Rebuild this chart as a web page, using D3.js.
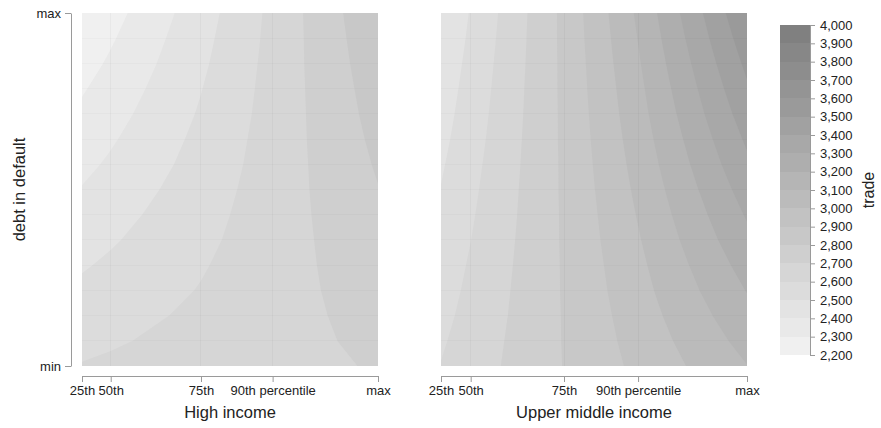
<!DOCTYPE html>
<html>
<head>
<meta charset="utf-8">
<script src="https://cdn.jsdelivr.net/npm/d3@7"></script>
<style>
  html, body { margin: 0; padding: 0; background: #fff; }
  svg { display: block; font-family: "Liberation Sans", Arial, Helvetica, sans-serif; }
</style>
</head>
<body>
<svg id="chart" width="881" height="428"></svg>
<script>
// Income percentiles along each x axis, placed as a share (0-100) of the income range
const percentileLabels = ["25th", "50th", "75th", "90th percentile", "max"];
const percentilePos = [0, 9.7, 40.2, 64.4, 100];

// Debt-in-default grid rows, from max (top) to min (bottom), as a share of the range
const debtPos = [100, 92.9, 85.7, 78.6, 71.4, 64.3, 57.1, 50, 42.9, 35.7, 28.6, 21.4, 14.3, 7.1, 0];
const debtTickPos = [0, 100];
const debtTickLabels = ["min", "max"];

const groupNames = ["High income", "Upper middle income"];

// Predicted trade: one row per debt level (max -> min), one column per percentile
const tradeHighIncome = [
  [2205, 2264, 2456, 2624, 2887],
  [2234, 2289, 2470, 2627, 2874],
  [2262, 2314, 2483, 2631, 2861],
  [2291, 2339, 2497, 2634, 2848],
  [2319, 2364, 2510, 2637, 2836],
  [2348, 2389, 2524, 2641, 2823],
  [2376, 2414, 2537, 2644, 2810],
  [2405, 2440, 2551, 2648, 2797],
  [2434, 2465, 2565, 2651, 2784],
  [2462, 2490, 2578, 2654, 2771],
  [2491, 2515, 2592, 2658, 2758],
  [2519, 2540, 2605, 2661, 2746],
  [2548, 2565, 2619, 2664, 2733],
  [2576, 2590, 2632, 2668, 2720],
  [2605, 2615, 2646, 2671, 2707]
];

const tradeUpperMiddle = [
  [2403, 2507, 2824, 3117, 3593],
  [2417, 2517, 2823, 3103, 3558],
  [2432, 2528, 2821, 3089, 3522],
  [2446, 2538, 2820, 3075, 3487],
  [2460, 2548, 2818, 3062, 3452],
  [2474, 2558, 2817, 3048, 3416],
  [2489, 2569, 2815, 3034, 3381],
  [2503, 2579, 2814, 3020, 3345],
  [2517, 2589, 2812, 3006, 3310],
  [2532, 2599, 2811, 2992, 3275],
  [2546, 2610, 2809, 2978, 3239],
  [2560, 2620, 2808, 2965, 3204],
  [2574, 2630, 2806, 2951, 3169],
  [2589, 2641, 2805, 2937, 3133],
  [2603, 2651, 2803, 2923, 3098]
];

// Contour levels shown in the colour key
const legendTicks = [2200, 2300, 2400, 2500, 2600, 2700, 2800, 2900, 3000, 3100,
                     3200, 3300, 3400, 3500, 3600, 3700, 3800, 3900, 4000];

const svg = d3.select("#chart");
const textColor = "#222";
const axisColor = "#9a9a9a";

const plotTop = 13, plotBottom = 366;
const yScale = d3.scaleLinear().domain([0, 100]).range([plotBottom, plotTop]);

const bandLevels = legendTicks.slice(0, -1);
const fillScale = d3.scaleLinear()
  .domain([bandLevels[0], bandLevels[bandLevels.length - 1]])
  .range(["#f0f0f0", "#808080"]);

const panels = [
  { name: groupNames[0], values: tradeHighIncome, x0: 82, x1: 378 },
  { name: groupNames[1], values: tradeUpperMiddle, x0: 441, x1: 747 }
];

const nx = percentilePos.length, ny = debtPos.length;
const pathGen = d3.geoPath();

panels.forEach((p, pi) => {
  const xScale = d3.scaleLinear().domain([0, 100]).range([p.x0, p.x1]);

  // grid index space -> pixel space (grid nodes sit at index + 0.5)
  const gx = d3.scaleLinear()
    .domain(d3.range(nx).map(i => i + 0.5))
    .range(percentilePos.map(xScale))
    .clamp(true);
  const gy = d3.scaleLinear()
    .domain(d3.range(ny).map(j => j + 0.5))
    .range(debtPos.map(yScale))
    .clamp(true);

  const clipId = "clip" + pi;
  svg.append("clipPath").attr("id", clipId)
    .append("rect")
    .attr("x", p.x0).attr("y", plotTop)
    .attr("width", p.x1 - p.x0).attr("height", plotBottom - plotTop);

  const g = svg.append("g").attr("clip-path", `url(#${clipId})`);

  const bands = d3.contours()
    .size([nx, ny])
    .thresholds(bandLevels)(p.values.flat());

  bands.forEach(b => {
    const geom = {
      type: "MultiPolygon",
      coordinates: b.coordinates.map(poly =>
        poly.map(ring => ring.map(([x, y]) => [gx(x), gy(y)])))
    };
    g.append("path")
      .attr("d", pathGen(geom))
      .attr("fill", fillScale(b.value));
  });

  // faint seams along the data grid
  const seams = g.append("g")
    .attr("stroke", "#000")
    .attr("shape-rendering", "crispEdges");
  percentilePos.slice(1, -1).forEach(v => {
    seams.append("line")
      .attr("stroke-opacity", 0.03)
      .attr("x1", xScale(v)).attr("x2", xScale(v))
      .attr("y1", plotTop).attr("y2", plotBottom);
  });
  debtPos.slice(1, -1).forEach(v => {
    seams.append("line")
      .attr("stroke-opacity", 0.018)
      .attr("x1", p.x0).attr("x2", p.x1)
      .attr("y1", yScale(v)).attr("y2", yScale(v));
  });

  // x axis
  const xAxis = d3.axisBottom(xScale)
    .tickValues(percentilePos)
    .tickFormat((d, i) => percentileLabels[i])
    .tickSizeInner(6)
    .tickSizeOuter(0)
    .tickPadding(4);
  const xg = svg.append("g").attr("transform", "translate(0,376)").call(xAxis);
  xg.select(".domain").attr("stroke", axisColor);
  xg.selectAll(".tick line").attr("stroke", axisColor);
  xg.selectAll(".tick text")
    .attr("fill", textColor)
    .style("font-size", "13px")
    .style("font-family", '"Liberation Sans", Arial, sans-serif');

  svg.append("text")
    .attr("x", (p.x0 + p.x1) / 2)
    .attr("y", 418)
    .attr("text-anchor", "middle")
    .attr("fill", textColor)
    .style("font-size", "16.5px")
    .text(p.name);
});

// y axis (shared, drawn once at the left)
const yAxis = d3.axisLeft(yScale)
  .tickValues(debtTickPos)
  .tickFormat((d, i) => debtTickLabels[i])
  .tickSizeInner(6)
  .tickSizeOuter(0)
  .tickPadding(4);
const yg = svg.append("g").attr("transform", "translate(71,0)").call(yAxis);
yg.select(".domain").attr("stroke", axisColor);
yg.selectAll(".tick line").attr("stroke", axisColor);
yg.selectAll(".tick text")
  .attr("fill", textColor)
  .style("font-size", "13px")
  .style("font-family", '"Liberation Sans", Arial, sans-serif');

svg.append("text")
  .attr("transform", `translate(25,${(plotTop + plotBottom) / 2}) rotate(-90)`)
  .attr("text-anchor", "middle")
  .attr("fill", textColor)
  .style("font-size", "16.5px")
  .text("debt in default");

// colour key
const keyX = 780, keyW = 30, keyTop = 25, keyBottom = 355;
const keyScale = d3.scaleLinear()
  .domain([legendTicks[0], legendTicks[legendTicks.length - 1]])
  .range([keyBottom, keyTop]);

svg.append("g").selectAll("rect")
  .data(bandLevels)
  .join("rect")
  .attr("x", keyX)
  .attr("width", keyW)
  .attr("y", (d, i) => keyScale(legendTicks[i + 1]))
  .attr("height", (d, i) => keyScale(d) - keyScale(legendTicks[i + 1]))
  .attr("fill", d => fillScale(d))
  .attr("shape-rendering", "crispEdges");

const keyAxis = d3.axisRight(keyScale)
  .tickValues(legendTicks)
  .tickFormat(d3.format(","))
  .tickSizeInner(5)
  .tickSizeOuter(0)
  .tickPadding(5);
const kg = svg.append("g").attr("transform", `translate(${keyX + keyW},0)`).call(keyAxis);
kg.select(".domain").attr("stroke", axisColor);
kg.selectAll(".tick line").attr("stroke", axisColor);
kg.selectAll(".tick text")
  .attr("fill", textColor)
  .style("font-size", "13px")
  .style("font-family", '"Liberation Sans", Arial, sans-serif');

svg.append("text")
  .attr("transform", `translate(874,${(keyTop + keyBottom) / 2}) rotate(-90)`)
  .attr("text-anchor", "middle")
  .attr("fill", textColor)
  .style("font-size", "16px")
  .text("trade");
</script>
</body>
</html>
